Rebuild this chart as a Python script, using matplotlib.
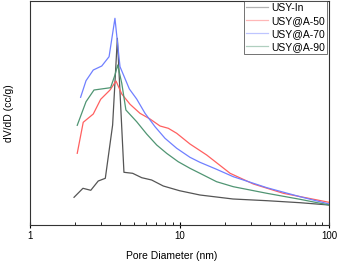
import matplotlib
matplotlib.use("Agg")
import matplotlib.pyplot as plt

plt.rcParams['font.family'] = ['Liberation Sans', 'DejaVu Sans']

# USY-In
x_in = [1.97, 2.26, 2.55, 2.86, 3.19, 3.57, 3.84, 4.25, 4.86, 5.59, 6.51, 7.79, 10, 13.7, 22.8, 38.5, 64, 100]
y_in = [27.7, 36.7, 34.7, 44, 46.7, 100, 186.7, 52.7, 51.7, 47.3, 45, 39, 34.3, 30, 26, 24.3, 22.3, 20]

# USY@A-50
x_50 = [2.07, 2.27, 2.65, 2.97, 3.43, 3.76, 4.11, 4.67, 5.44, 6.35, 7.41, 8.42, 9.58, 11.75, 15.2, 21.8, 31.2, 49.5, 100]
y_50 = [71.7, 102.7, 111, 125.7, 135, 144, 131, 120.7, 111.7, 106, 99, 96.7, 91.7, 81, 70, 51.7, 41, 31.7, 22.7]

# USY@A-70
x_70 = [2.18, 2.37, 2.65, 3.02, 3.38, 3.70, 4.00, 4.62, 5.17, 5.88, 6.86, 8.0, 9.58, 11.75, 13.7, 17.7, 22.9, 38.4, 64, 100]
y_70 = [127.7, 144.3, 155, 159, 168.3, 206.7, 158.3, 136, 126, 111.7, 98.3, 86.7, 76.7, 67.7, 62.7, 55.7, 48.3, 37.3, 28.3, 21]

# USY@A-90
x_90 = [2.07, 2.37, 2.68, 3.46, 3.70, 3.86, 4.11, 4.38, 5.17, 6.03, 7.04, 8.2, 9.8, 11.75, 13.7, 17.7, 22.9, 38.4, 64, 100]
y_90 = [99.7, 123.3, 135, 137.3, 150, 160, 141.7, 115, 103.3, 91, 80, 71.7, 63.3, 56.7, 51.7, 43.3, 38.3, 31.7, 25.7, 20]

labels = ['USY-In', 'USY@A-50', 'USY@A-70', 'USY@A-90']
colors = ['#555555', '#ff6060', '#7080ff', '#509573']

fig = plt.figure(figsize=(3.37, 2.64), dpi=100)
ax = fig.add_axes([30/337, 39/264, 299/337, 224/264])

for xs, ys, lab, c in zip([x_in, x_50, x_70, x_90], [y_in, y_50, y_70, y_90], labels, colors):
    ax.plot(xs, ys, color=c, lw=0.9, label=lab)

ax.set_xscale('log')
ax.set_xlim(1, 100)
ax.set_ylim(0, 224)
ax.set_yticks([])
ax.set_xticks([1, 10, 100])
ax.set_xticklabels(['1', '10', '100'])
ax.tick_params(axis='x', which='major', direction='inout', length=4, width=0.8, labelsize=7, pad=2)
ax.tick_params(axis='x', which='minor', direction='in', length=2, width=0.6)
for s in ax.spines.values():
    s.set_linewidth(0.8)
    s.set_color('#333333')

ax.set_xlabel('Pore Diameter (nm)', fontsize=7.5)
ax.xaxis.set_label_coords((171.5 - 30) / 299, -(251 - 225) / 224)
ax.set_ylabel('dV/dD (cc/g)', fontsize=7.5)
ax.yaxis.set_label_coords(-(30 - 13.5) / 299, 0.5)

leg = ax.legend(loc='upper right', fontsize=7.5, frameon=True, fancybox=False,
                borderpad=0.15, handlelength=2.2, handletextpad=0.3, labelspacing=0.3,
                borderaxespad=0.0, bbox_to_anchor=(1 - 2/299, 1.0))
leg.get_frame().set_edgecolor('#333333')
leg.get_frame().set_linewidth(0.6)
for line in leg.get_lines():
    line.set_alpha(0.45)

fig.savefig('out.png', dpi=100)
